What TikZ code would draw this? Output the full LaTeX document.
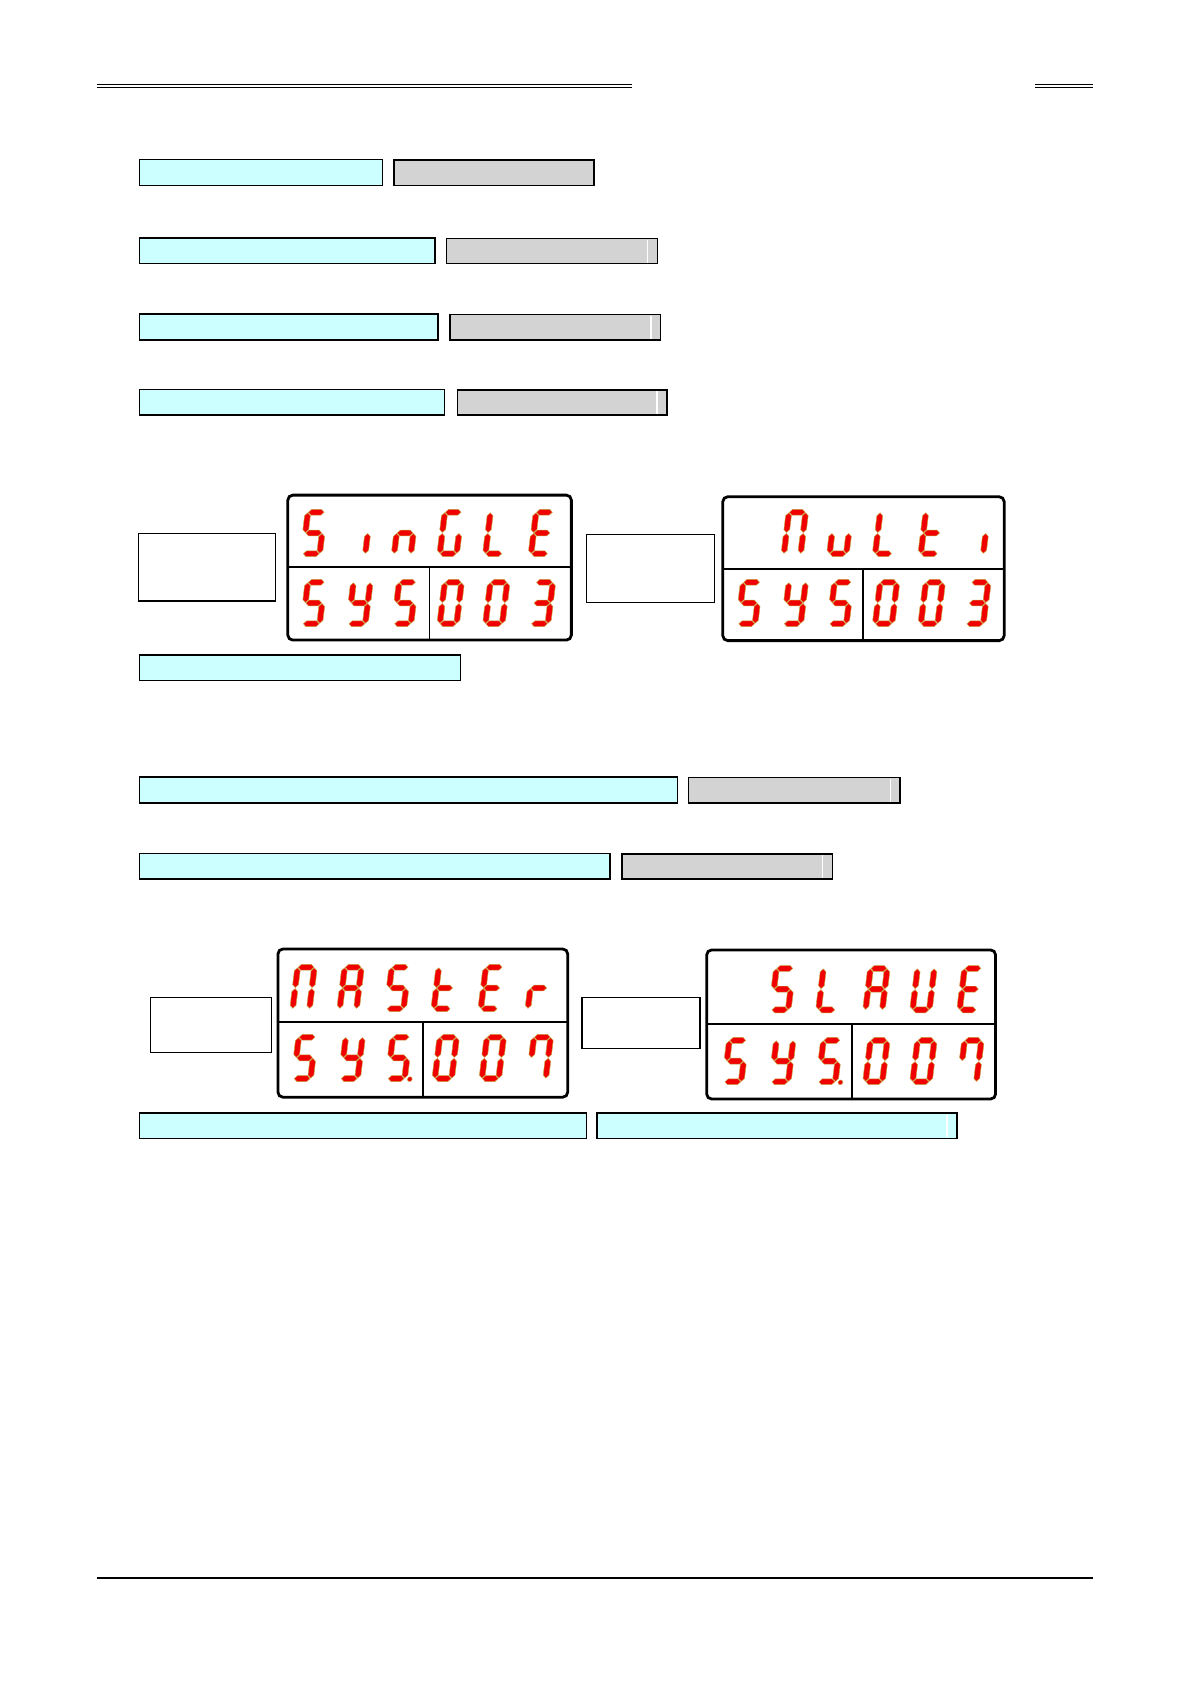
\documentclass[tikz,border=0pt]{standalone}
\usepackage{xcolor}
\usepackage{tikz}
\definecolor{barcyan}{HTML}{CCFFFF}
\definecolor{bargray}{HTML}{D3D3D3}
\definecolor{segred}{HTML}{F00000}
\definecolor{segedge}{HTML}{C8A040}

% one bar of a seven-segment glyph, local units, y pointing up
\newcommand\segH[1]{\fill[segpaint] (3.2,#1) -- ++(2.7,2.7) -- ++(9.2,0) -- ++(2.7,-2.7) -- ++(-2.7,-2.7) -- ++(-9.2,0) -- cycle;}
\newcommand\segV[2]{\fill[segpaint] (#1,#2) -- ++(2.7,2.7) -- ++(0,12.9) -- ++(-2.7,2.7) -- ++(-2.7,-2.7) -- ++(0,-12.9) -- cycle;}
\newcommand\segparta{\segH{41.3}}
\newcommand\segpartg{\segH{22}}
\newcommand\segpartd{\segH{2.7}}
\newcommand\segpartf{\segV{2.7}{22.5}}
\newcommand\segparte{\segV{2.7}{3.2}}
\newcommand\segpartb{\segV{18.3}{22.5}}
\newcommand\segpartc{\segV{18.3}{3.2}}
\newcommand\segpartp{\fill[segpaint] (23.2,2.2) circle (2.2);}

% which bars are lit for each character
\newcommand\glyphS{a,f,g,c,d}
\newcommand\glyphSp{a,f,g,c,d,p}
\newcommand\glyphi{c}
\newcommand\glyphn{c,e,g}
\newcommand\glyphG{a,f,e,d,c}
\newcommand\glyphL{f,e,d}
\newcommand\glyphE{a,f,g,e,d}
\newcommand\glyphY{b,f,g,c,d}
\newcommand\glyphM{a,b,c,e,f}
\newcommand\glyphu{c,d,e}
\newcommand\glypht{f,e,d,g}
\newcommand\glyphA{a,b,c,e,f,g}
\newcommand\glyphr{e,g}
\newcommand\glyphV{b,c,d,e,f}
\expandafter\newcommand\csname glyph0\endcsname{a,b,c,d,e,f}
\expandafter\newcommand\csname glyph3\endcsname{a,b,g,c,d}
\expandafter\newcommand\csname glyph7\endcsname{a,b,c,f}

% #1 = left x, #2 = bottom y, #3 = character
\newcommand\segchar[3]{%
  \begin{scope}[shift={(#1,#2)}, yscale=-1, xslant=-0.12]
    \expandafter\let\expandafter\seglist\csname glyph#3\endcsname
    \foreach \s in \seglist {\csname segpart\s\endcsname}
  \end{scope}}

\begin{document}
\begin{tikzpicture}[x=0.018936cm, y=-0.018936cm,
    cyanbar/.style={fill=barcyan, draw=black, line width=0.7pt},
    graybar/.style={fill=bargray, draw=black, line width=0.7pt},
    blankbox/.style={fill=white, draw=black, line width=0.7pt},
    lcdframe/.style={draw=black, line width=1.4pt, rounded corners=2.5pt},
    lcdrule/.style={draw=black, line width=0.9pt},
    segpaint/.style={fill=segred, draw=segedge, line width=0.25pt}]

  \useasboundingbox (0,0) rectangle (1109,1568);

  % page rules
  \foreach \yy in {78.8, 81.6}{
    \draw[line width=0.7pt] (90,\yy) -- (588,\yy);
    \draw[line width=0.7pt] (964,\yy) -- (1018,\yy);}
  \draw[line width=1.2pt] (90,1469) -- (1018,1469);

  % parameter rows: cyan name field followed by a grey value field
  \foreach \yt/\xc/\xg/\xe in {148.5/356/367/553, 221.5/405/416/612,
      292.5/408/419/615, 362.5/414/426/621, 723.5/631/641/838, 794.5/568/579/775}{
    \draw[cyanbar] (130,\yt) rectangle (\xc,\yt+24);
    \draw[graybar] (\xg,\yt+0.5) rectangle (\xe,\yt+24);}
  % the thin white stripe near the right end of most value fields
  \foreach \yt/\xs in {221.5/603, 292.5/606, 362.5/612, 723.5/829, 794.5/766}{
    \draw[white, line width=0.8pt] (\xs,\yt+1.5) -- (\xs,\yt+23);}

  % single cyan rows under the display pairs
  \draw[cyanbar] (130,610) rectangle (429,633.5);
  \draw[cyanbar] (130,1036.5) rectangle (546,1060);
  \draw[cyanbar] (556,1036.5) rectangle (891,1060);
  \draw[white, line width=0.8pt] (882,1038) -- (882,1059);

  % empty boxes left of each display
  \draw[blankbox] (128.7,496.5) rectangle (256.3,559.6);
  \draw[blankbox] (546.3,497.5) rectangle (665.1,560.8);
  \draw[blankbox] (140.3,929) rectangle (253,979.8);
  \draw[blankbox] (542,928.6) rectangle (651.8,976.1);

  % display 1: SinGLE / SYS 003
  \draw[lcdframe] (268,461) rectangle (532,596);
  \draw[lcdrule] (268,528) -- (532,528);
  \draw[lcdrule] (400,528) -- (400,596);
  \foreach \k/\ch in {0/S, 1/i, 2/n, 3/G, 4/L, 5/E}{\segchar{279+42.5*\k}{518.3}{\ch}}
  \foreach \k/\ch in {0/S, 1/Y, 2/S, 3/0, 4/0, 5/3}{\segchar{279+42.5*\k}{583.5}{\ch}}

  % display 2: Multi / SYS 003 (top row starts one place in)
  \draw[lcdframe] (673,462.5) rectangle (935,596.5);
  \draw[lcdrule] (673,529.8) -- (935,529.8);
  \draw[lcdrule] (803.3,529.8) -- (803.3,596.5);
  \foreach \k/\ch in {1/M, 2/u, 3/L, 4/t, 5/i}{\segchar{684.4+42.5*\k}{518.3}{\ch}}
  \foreach \k/\ch in {0/S, 1/Y, 2/S, 3/0, 4/0, 5/3}{\segchar{684.4+42.5*\k}{583.5}{\ch}}

  % display 3: MASTEr / SYS. 007
  \draw[lcdframe] (258.8,883.6) rectangle (528.6,1021.6);
  \draw[lcdrule] (258.8,951.9) -- (528.6,951.9);
  \draw[lcdrule] (393.6,951.9) -- (393.6,1021.6);
  \foreach \k/\ch in {0/M, 1/A, 2/S, 3/t, 4/E, 5/r}{\segchar{269.5+43.8*\k}{942}{\ch}}
  \foreach \k/\ch in {0/S, 1/Y, 2/Sp, 3/0, 4/0, 5/7}{\segchar{270.5+43.8*\k}{1007}{\ch}}

  % display 4: SLAVE / SYS. 007
  \draw[lcdframe] (658,884.5) rectangle (927,1023.3);
  \draw[lcdrule] (658,953.5) -- (927,953.5);
  \draw[lcdrule] (793,953.5) -- (793,1023.3);
  \foreach \k/\ch in {1/S, 2/L, 3/A, 4/V, 5/E}{\segchar{671.5+43.8*\k}{943}{\ch}}
  \foreach \k/\ch in {0/S, 1/Y, 2/Sp, 3/0, 4/0, 5/7}{\segchar{671.5+43.8*\k}{1010}{\ch}}

\end{tikzpicture}
\end{document}
